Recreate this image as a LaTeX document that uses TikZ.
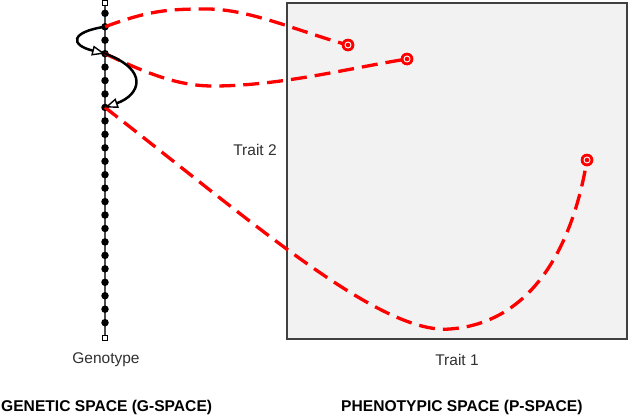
\documentclass[tikz,border=0pt]{standalone}
\usepackage{fontspec}
\setmainfont{Liberation Sans}
\usetikzlibrary{arrows.meta}
\definecolor{boxgray}{HTML}{F2F2F2}
\definecolor{textgray}{HTML}{303030}
\tikzset{
  gdot/.style={circle, fill=black, inner sep=0pt, minimum size=7.5pt},
  gend/.style={draw, fill=white, inner sep=0pt, minimum size=4.5pt, line width=0.8pt},
  pdot/.style={circle, fill=red, inner sep=0pt, minimum size=12.5pt,
    path picture={\draw[white, line width=0.9pt] (path picture bounding box.center) circle[radius=3pt];}},
  mapline/.style={red, line width=3.3pt, dash pattern=on 16pt off 8pt},
  mutarrow/.style={-{Triangle[open, length=13pt, width=10pt, line width=1.4pt]}, line width=2.5pt},
  lbl/.style={font=\fontsize{15.5}{18}\selectfont, text=textgray},
  title/.style={font=\fontsize{15.6}{19}\selectfont\bfseries, anchor=west, inner sep=0pt}
}
\begin{document}
\begin{tikzpicture}[x=1pt, y=-1pt]
  \useasboundingbox (0,0) rectangle (640,418);
  \draw[fill=boxgray, draw=black!75, line width=1.4pt] (287,3) rectangle (627,339); % phenotype space

  % genotype axis
  \node[gend] (gtop) at (105,3) {};
  \node[gend] (gbot) at (105,338) {};
  \draw[black!70, line width=1.8pt] (gtop) -- (gbot);
  \foreach \i in {0,...,23}
    \node[gdot] (g\i) at (105,{13.3+13.45*\i}) {};

  % genotype-phenotype map
  \node[pdot] (p1) at (348,45) {};
  \node[pdot] (p2) at (407,59) {};
  \node[pdot] (p3) at (587,160) {};
  \draw[mapline] (g1.center) .. controls (150,10) and (170,9) .. (207,9)
    .. controls (250,9) and (300,32) .. (p1.center);
  \draw[mapline] (g3.center) .. controls (150,75) and (180,86) .. (213,86)
    .. controls (280,86) and (350,68) .. (p2.center);
  \draw[mapline] (g7.center) .. controls (250,220) and (380,335) .. (450,329)
    .. controls (530,323) and (572,250) .. (p3.center);
  \node[pdot] at (p1) {};
  \node[pdot] at (p2) {};
  \node[pdot] at (p3) {};

  % mutations
  \draw[mutarrow] (g1.center) .. controls (70,32) and (70,45) .. (g3.center);
  \draw[mutarrow] (g3.center) .. controls (150,70) and (140,95) .. (g7.center);

  \node[lbl] (geno) at (106,360) {Genotype};
  \node[lbl] (trait1) at (457,360) {Trait 1};
  \node[lbl] (trait2) at (255,150) {Trait 2};
  \node[title] (gspace) at (1,407) {GENETIC SPACE (G-SPACE)};
  \node[title] (pspace) at (341,407) {PHENOTYPIC SPACE (P-SPACE)};
\end{tikzpicture}
\end{document}
